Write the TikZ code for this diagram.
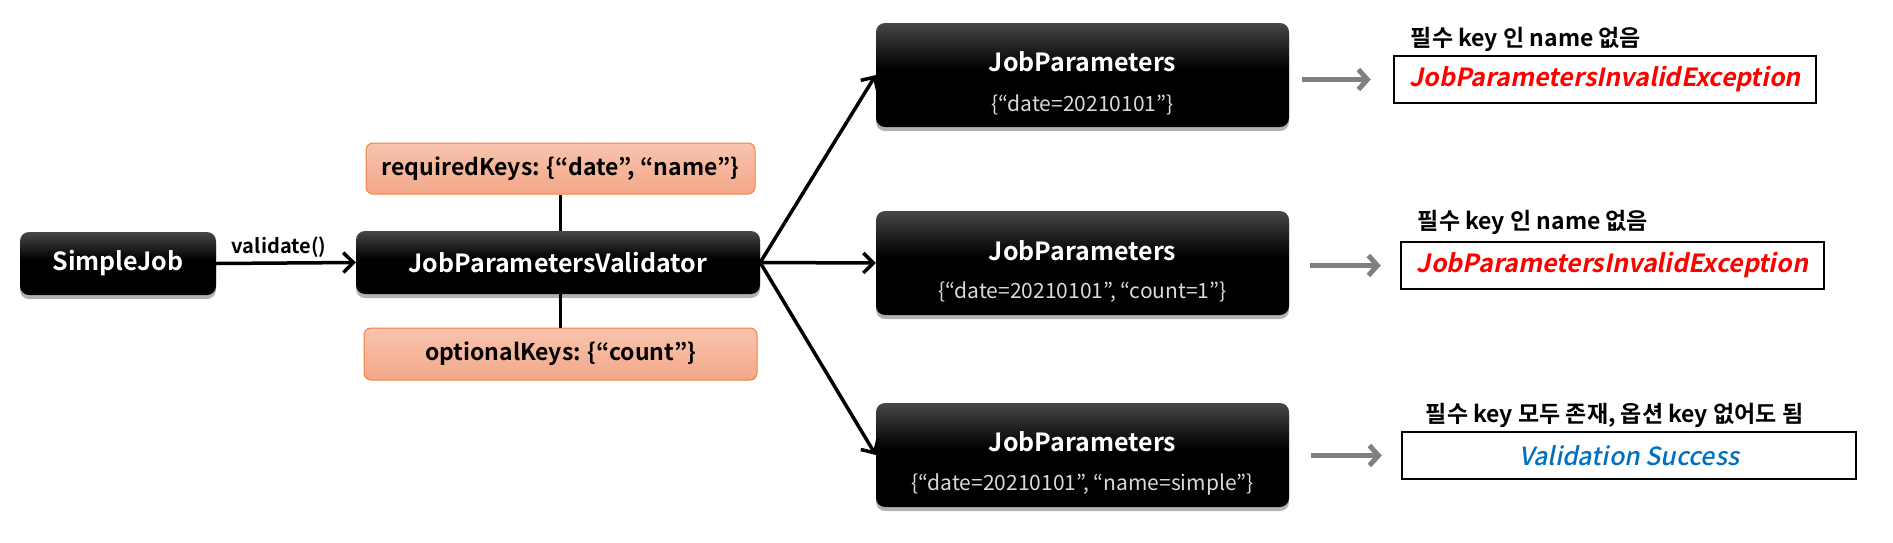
\documentclass[tikz,border=0pt]{standalone}
\usepackage{fontspec}
\setmainfont{Noto Sans CJK KR}[BoldFont={Noto Sans CJK KR Bold},ItalicFont={Noto Sans CJK KR},ItalicFeatures={FakeSlant=0.2},BoldItalicFont={Noto Sans CJK KR Bold},BoldItalicFeatures={FakeSlant=0.2}]
\newfontfamily\medslant{Noto Sans CJK KR Medium}[FakeSlant=0.2]
\usetikzlibrary{arrows.meta,shadows}
\definecolor{keytop}{HTML}{F8C4AE}
\definecolor{keybot}{HTML}{F4A788}
\definecolor{keyline}{HTML}{F0823C}
\definecolor{subgray}{HTML}{D9D9D9}
\definecolor{exred}{HTML}{FF0000}
\definecolor{okblue}{HTML}{0070C0}
\definecolor{arrgray}{HTML}{808080}
\pgfdeclareverticalshading{blackgrad}{100bp}{color(0bp)=(black); color(25bp)=(black); color(53bp)=(black); color(75bp)=(black!72!white); color(100bp)=(black!72!white)}
\tikzset{
  blackbox/.style={shading=blackgrad, rounded corners=9pt, text=white, font=\bfseries, align=center, inner sep=0pt,
    drop shadow={shadow xshift=0pt, shadow yshift=-4pt, opacity=0.3, fill=black}},
  jptitle/.style={text=white, font=\bfseries\fontsize{25}{30}\selectfont, inner sep=0pt},
  jpsub/.style={text=subgray, font=\fontsize{21}{25}\selectfont, inner sep=0pt},
  keybox/.style={top color=keytop, bottom color=keybot, draw=keyline, line width=1pt, rounded corners=7pt, font=\bfseries\fontsize{23}{27}\selectfont, inner sep=0pt},
  resbox/.style={draw=black, line width=2.5pt, inner sep=0pt, fill=white, minimum height=47pt},
  exc/.style={font=\bfseries\itshape\fontsize{25}{30}\selectfont, text=exred},
  conn/.style={line width=3.5pt, -{Straight Barb[length=10pt,width=20pt,line width=3.5pt]}},
  plainline/.style={line width=3.5pt},
  grayarrow/.style={draw=arrgray, line width=5pt, -{Straight Barb[length=9pt,width=20pt,line width=5pt]}},
  lbl/.style={font=\bfseries\fontsize{23}{27}\selectfont, inner sep=0pt},
}
\begin{document}
\begin{tikzpicture}[x=1pt,y=-1pt]
\useasboundingbox (0,0) rectangle (1893,542);
% left nodes
\node[blackbox, minimum width=196pt, minimum height=63pt, font=\bfseries\fontsize{25}{30}\selectfont] (sj) at (118,263.5) {SimpleJob};
\node[blackbox, minimum width=404pt, minimum height=63pt, font=\bfseries\fontsize{25}{30}\selectfont] (val) at (558,262.5) {JobParametersValidator};
\node[keybox, minimum width=389pt, minimum height=51pt] (req) at (560.5,168.5) {requiredKeys: \{“date”, “name”\}};
\node[keybox, minimum width=393pt, minimum height=52pt] (opt) at (560.5,354) {optionalKeys: \{“count”\}};
% job parameters
\node[blackbox, minimum width=413pt, minimum height=104pt] (jp1) at (1082.5,75) {};
\node[jptitle] (jp1t) at ([yshift=13pt]jp1.center) {JobParameters};
\node[jpsub] (jp1s) at ([yshift=-30pt]jp1.center) {\{“date=20210101”\}};
\node[blackbox, minimum width=413pt, minimum height=104pt] (jp2) at (1082.5,263) {};
\node[jptitle] (jp2t) at ([yshift=12pt]jp2.center) {JobParameters};
\node[jpsub] (jp2s) at ([yshift=-29pt]jp2.center) {\{“date=20210101”, “count=1”\}};
\node[blackbox, minimum width=413pt, minimum height=104pt] (jp3) at (1082.5,455) {};
\node[jptitle] (jp3t) at ([yshift=13pt]jp3.center) {JobParameters};
\node[jpsub] (jp3s) at ([yshift=-30pt]jp3.center) {\{“date=20210101”, “name=simple”\}};
% results
\node[resbox, minimum width=422pt, exc] (r1) at (1605,79.5) {JobParametersInvalidException};
\node[resbox, minimum width=423pt, exc] (r2) at (1612.5,265.5) {JobParametersInvalidException};
\node[resbox, minimum width=454pt, font=\medslant\fontsize{25}{30}\selectfont, text=okblue] (r3) at (1629,455.5) {Validation Success};
\node[lbl] (l1) at (1526,39) {필수 key 인 name 없음};
\node[lbl] (l2) at (1533,222) {필수 key 인 name 없음};
\node[lbl] (l3) at (1614.5,415) {필수 key 모두 존재, 옵션 key 없어도 됨};
% connectors
\draw[conn] (sj.east) -- node[above=4pt, pos=0.45, font=\bfseries\fontsize{20}{24}\selectfont, inner sep=0pt] (vl) {validate()} (val.west);
\draw[plainline] (req.south) -- (req.south |- val.north);
\draw[plainline] (opt.north) -- (opt.north |- val.south);
\draw[conn] (val.east) -- (jp1.west);
\draw[conn] (val.east) -- (jp2.west);
\draw[conn] (val.east) -- (jp3.west);
\draw[grayarrow] ([xshift=13pt]jp1.east |- r1.west) -- ([xshift=-22pt]r1.west);
\draw[grayarrow] ([xshift=21pt]jp2.east |- r2.west) -- ([xshift=-19pt]r2.west);
\draw[grayarrow] ([xshift=22pt]jp3.east |- r3.west) -- ([xshift=-19pt]r3.west);
\end{tikzpicture}
\end{document}
